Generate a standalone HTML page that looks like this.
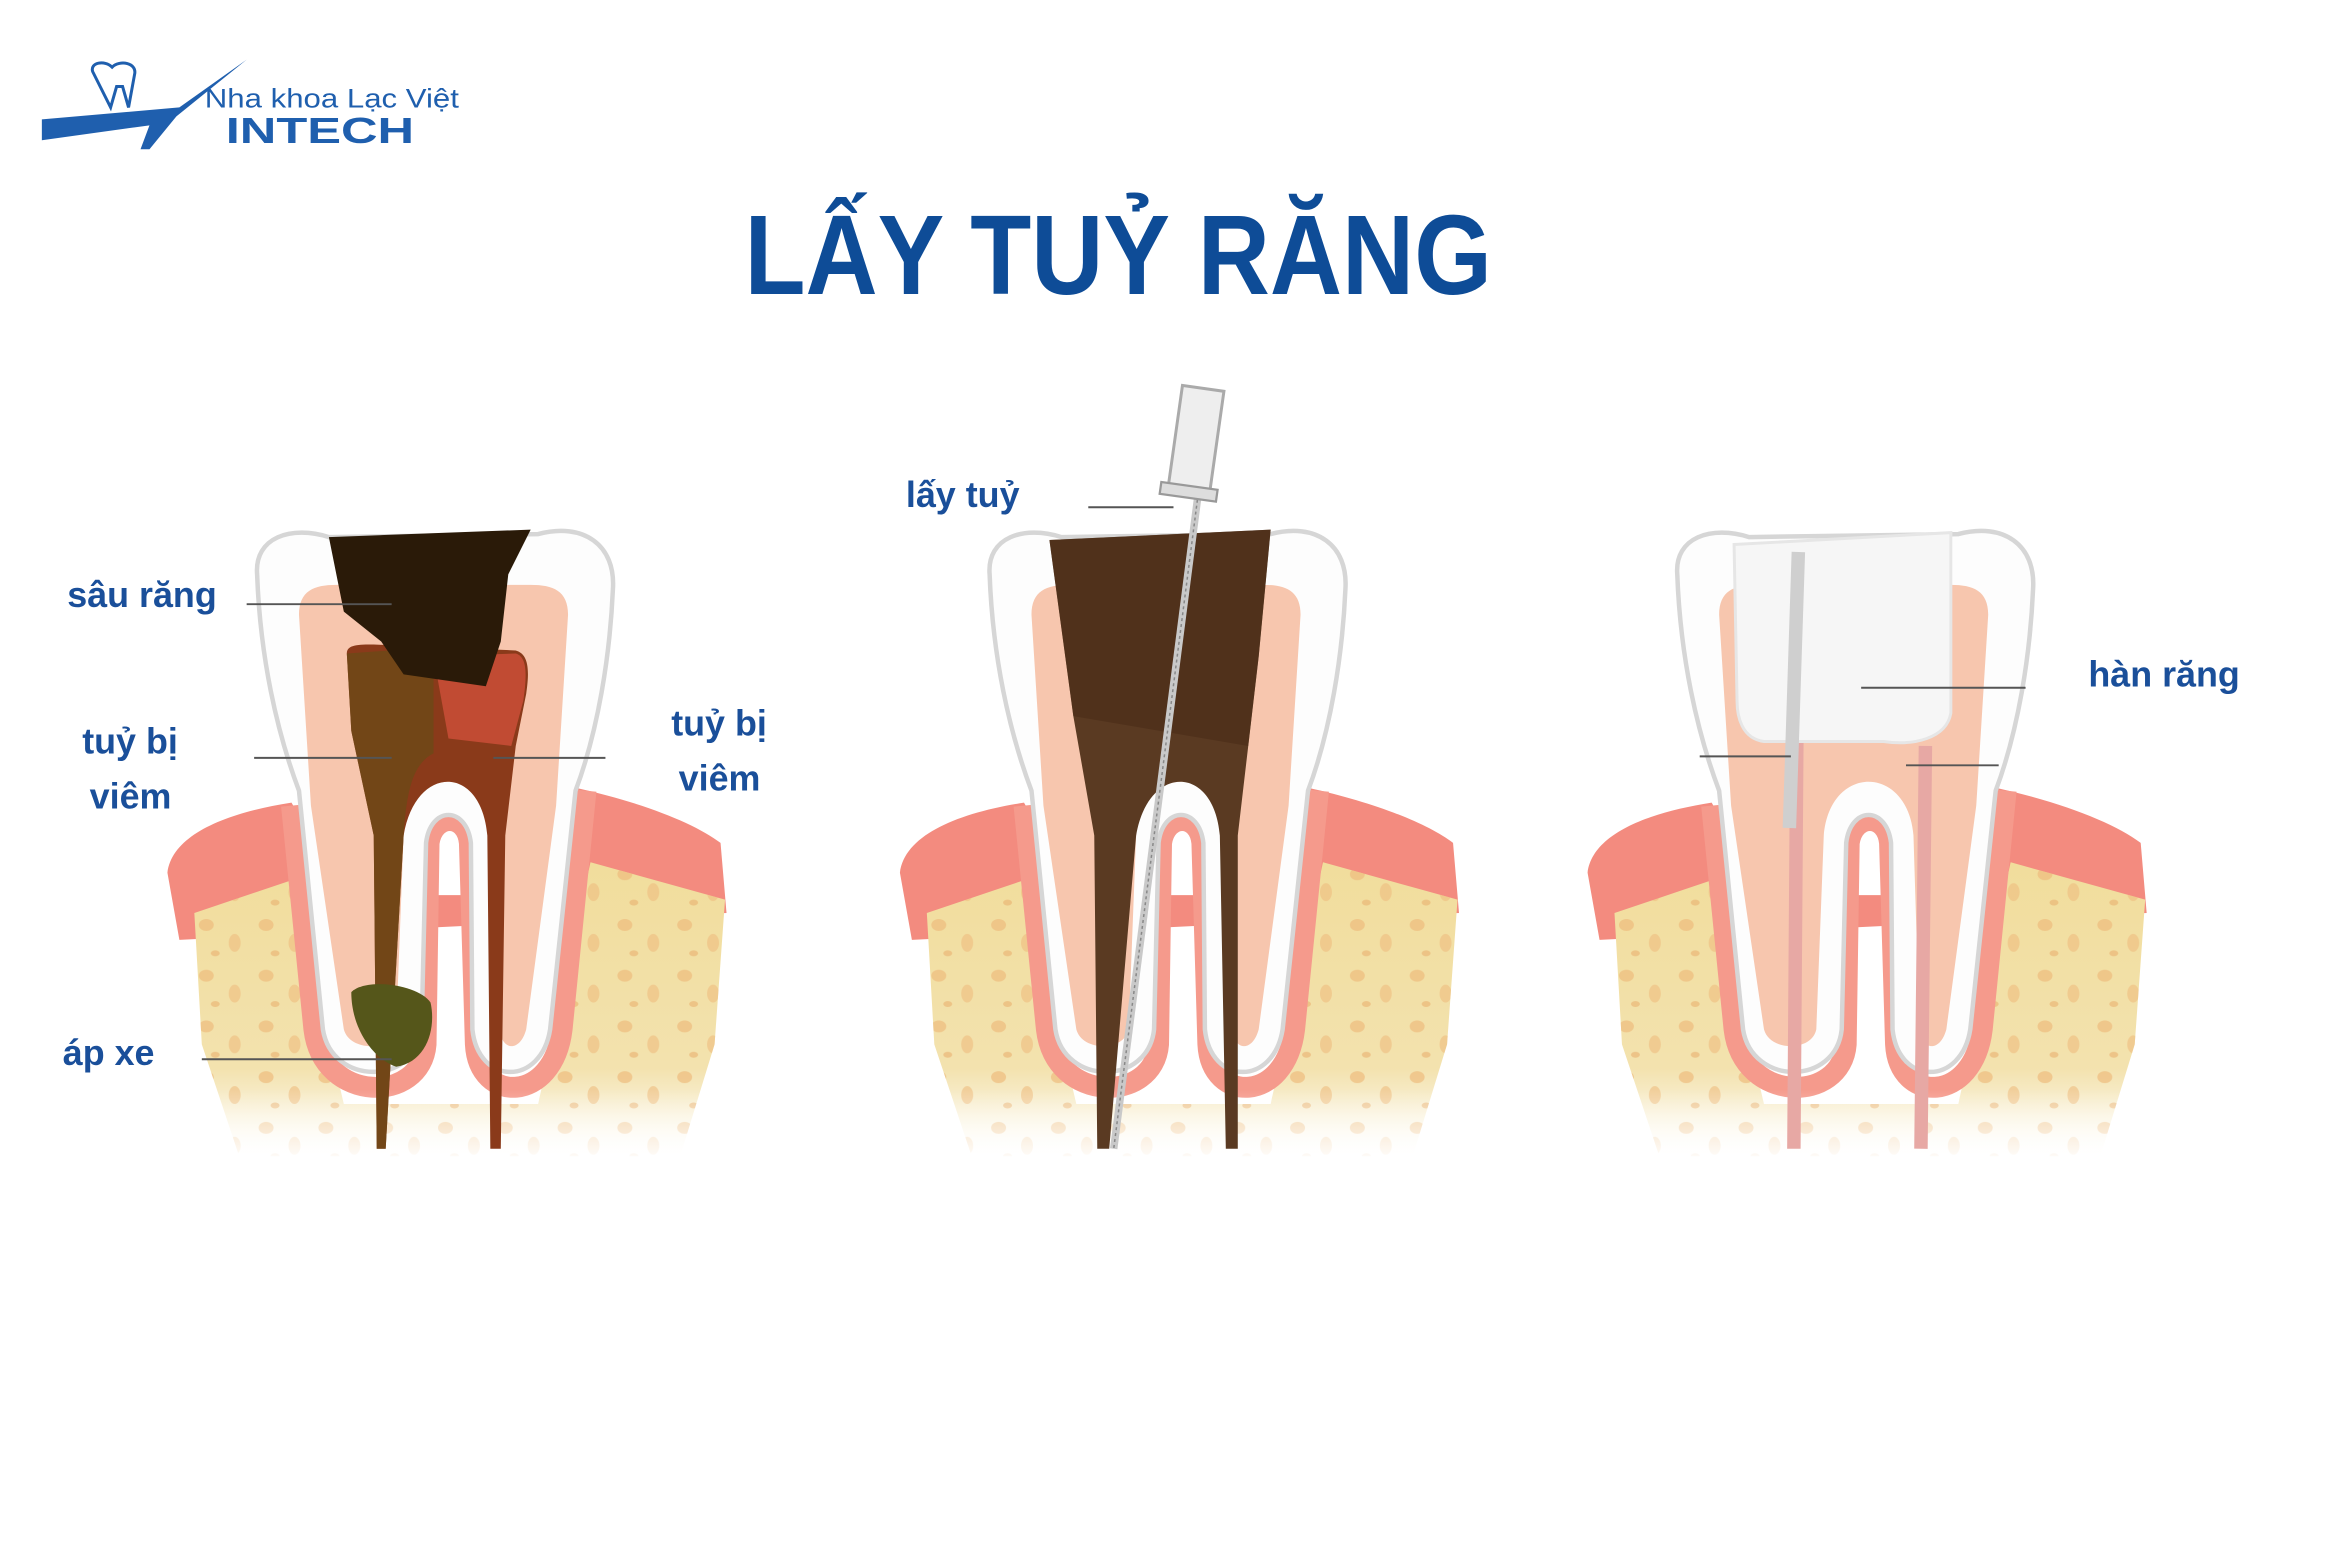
<!DOCTYPE html>
<html><head><meta charset="utf-8"><style>
html,body{margin:0;padding:0;background:#fff;}
svg{display:block;}
text{font-family:"Liberation Sans",sans-serif;}
</style></head><body>
<svg width="2344" height="1562" viewBox="0 0 1568 1047" preserveAspectRatio="none" xmlns="http://www.w3.org/2000/svg">
<defs>
<linearGradient id="bone" x1="0" y1="0" x2="0" y2="1">
<stop offset="0" stop-color="#f1dd9c"/><stop offset="0.7" stop-color="#f3e2ae"/><stop offset="1" stop-color="#fff"/>
</linearGradient>
<linearGradient id="fade" x1="0" y1="0" x2="0" y2="1">
<stop offset="0" stop-color="#fff" stop-opacity="0"/><stop offset="1" stop-color="#fff" stop-opacity="1"/>
</linearGradient>
<pattern id="spk" width="40" height="34" patternUnits="userSpaceOnUse">
<ellipse cx="8" cy="8" rx="5" ry="4" fill="#efbd7e" opacity=".7"/>
<ellipse cx="27" cy="20" rx="4" ry="6" fill="#efbd7e" opacity=".6"/>
<ellipse cx="14" cy="27" rx="3" ry="2" fill="#eab06f" opacity=".6"/>
</pattern>
<g id="base">
<path d="M-178,585 C-175,560 -140,545 -95,538 L-60,600 L80,600 L95,528 C140,538 175,552 192,565 L196,612 L-170,630 Z" fill="#f38b7f"/>
<path d="M-160,612 L-95,590 L-60,740 L70,740 L105,578 L195,603 L188,700 L165,775 L-130,775 L-155,700 Z" fill="url(#bone)"/>
<path d="M-160,612 L-95,590 L-60,740 L70,740 L105,578 L195,603 L188,700 L165,775 L-130,775 L-155,700 Z" fill="url(#spk)"/>
<path d="M-95,540 L-80,690 C-74,740 -8,740 -5,700 L-3,565 C0,545 22,545 24,565 L28,700 C30,740 80,740 86,690 L102,530" fill="none" stroke="#f59a8c" stroke-width="14"/>
<path d="M-118,385 C-120,360 -95,352 -70,360 L70,358 C100,350 122,365 120,395 C118,440 110,490 95,530 L78,690 C72,728 30,728 26,690 L25,565 C22,540 -2,540 -5,565 L-8,690 C-12,728 -68,728 -74,690 L-90,530 C-105,490 -116,440 -118,385 Z" fill="#fdfdfd" stroke="#d6d6d6" stroke-width="3"/>
<path d="M-90,412 C-90,396 -80,392 -65,392 L65,392 C80,392 90,396 90,412 L82,540 L62,690 C58,705 46,705 44,690 L40,560 C36,512 -16,512 -20,560 L-25,690 C-28,705 -56,705 -60,690 L-82,540 Z" fill="#f7c6ae"/>
<rect x="-180" y="730" width="380" height="50" fill="url(#fade)"/>
</g>
</defs>

<!-- logo -->
<g fill="#1f5fae">
<path d="M28,80 L120,72 L165,40 L118,78 L100,100 L94,100 L100,84 L28,94 Z"/>
<path d="M62,48 C60,42 70,40 75,45 C80,40 92,42 90,50 L86,72 L82,58 L78,58 L74,72 Z" fill="none" stroke="#1f5fae" stroke-width="2"/>
</g>
<text x="137" y="72" font-size="18" fill="#1f5fae" textLength="170" lengthAdjust="spacingAndGlyphs">Nha khoa Lạc Việt</text>
<text x="151" y="96" font-size="24" font-weight="bold" fill="#1f5fae" textLength="126" lengthAdjust="spacingAndGlyphs">INTECH</text>

<text x="498" y="197" font-size="76" font-weight="bold" fill="#0e4c97" textLength="500" lengthAdjust="spacingAndGlyphs">LẤY TUỶ RĂNG</text>

<!-- tooth 1 -->
<g transform="translate(290,0)">
<use href="#base"/>
<path d="M-58,438 C-58,432 -50,432 -40,432 L55,436 C62,438 65,445 62,465 L55,500 L48,560 L45,770 L38,770 L36,560 C32,512 -12,512 -20,560 L-32,770 L-38,770 L-40,560 L-55,490 Z" fill="#8a3a1a"/>
<path d="M-58,438 L0,434 L0,505 C-14,512 -18,530 -20,560 L-32,770 L-38,770 L-40,560 L-55,490 Z" fill="#6b4a16" opacity=".8"/>
<path d="M0,440 L55,438 C62,440 63,450 60,470 L52,500 L10,495 Z" fill="#d8523e" opacity=".7"/>
<path d="M-70,360 L65,355 L50,385 L45,430 L35,460 L-20,452 L-35,430 L-60,410 Z" fill="#2a1a08"/>
<path d="M-55,665 C-45,655 -10,660 -2,672 C2,690 -5,712 -25,715 C-40,710 -55,690 -55,665 Z" fill="#55561a"/>
</g>

<!-- tooth 2 -->
<g transform="translate(780,0)">
<use href="#base"/>
<path d="M-78,362 L70,355 L62,440 L55,500 L48,560 L48,770 L40,770 L36,560 C32,512 -12,512 -20,560 L-38,770 L-46,770 L-48,560 L-62,480 Z" fill="#5a3a22"/>
<path d="M-78,362 L70,355 L62,440 L55,500 L-62,480 Z" fill="#4a2c18" opacity=".6"/>
</g>
<line x1="801" y1="335" x2="745" y2="770" stroke="#c9c9c9" stroke-width="5"/>
<line x1="801" y1="335" x2="745" y2="770" stroke="#888" stroke-width="1" stroke-dasharray="2 2"/>
<g transform="rotate(8 800 295)">
<rect x="786" y="260" width="28" height="68" fill="#eee" stroke="#aaa" stroke-width="2"/>
<rect x="781" y="326" width="38" height="8" fill="#ddd" stroke="#999" stroke-width="1.5"/>
</g>

<!-- tooth 3 -->
<g transform="translate(1240,0)">
<use href="#base"/>
<path d="M-38,495 L-40,770 M48,500 L45,770" stroke="#e7a8a4" stroke-width="9" fill="none"/>
<path d="M-80,365 L65,357 L65,478 C62,495 40,500 20,497 L-60,497 C-75,495 -78,480 -78,470 Z" fill="#f6f6f6" stroke="#e6e6e6" stroke-width="2"/>
<path d="M-37,370 L-43,555" stroke="#cfcfcf" stroke-width="9"/>
</g>

<!-- leaders -->
<g stroke="#555" stroke-width="1.3">
<line x1="165" y1="405" x2="262" y2="405"/>
<line x1="170" y1="508" x2="262" y2="508"/>
<line x1="330" y1="508" x2="405" y2="508"/>
<line x1="135" y1="710" x2="262" y2="710"/>
<line x1="728" y1="340" x2="785" y2="340"/>
<line x1="1245" y1="461" x2="1355" y2="461"/>
<line x1="1137" y1="507" x2="1198" y2="507"/>
<line x1="1275" y1="513" x2="1337" y2="513"/>
</g>

<g fill="#1a4f9a" font-size="24" font-weight="bold">
<text x="45" y="407">sâu răng</text>
<text x="55" y="505">tuỷ bị</text>
<text x="60" y="542">viêm</text>
<text x="449" y="493">tuỷ bị</text>
<text x="454" y="530">viêm</text>
<text x="42" y="714">áp xe</text>
<text x="606" y="340">lấy tuỷ</text>
<text x="1397" y="460">hàn răng</text>
</g>
</svg>
</body></html>
